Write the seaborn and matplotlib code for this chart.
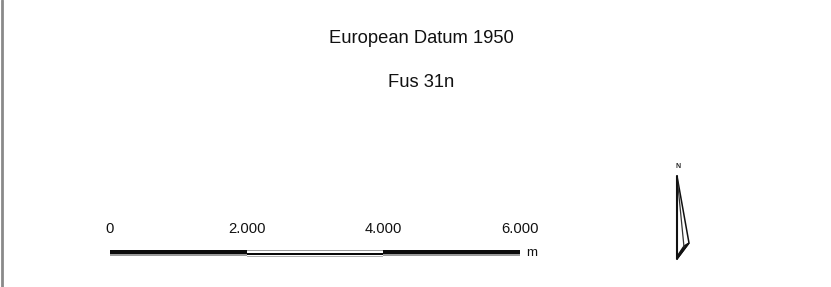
import matplotlib
matplotlib.use("Agg")
import matplotlib.pyplot as plt
import seaborn as sns

# map legend data
titulo = ["European Datum 1950", "Fus 31n"]
escala_m = [0, 2000, 4000, 6000]
escala_rotulos = ["0", "2.000", "4.000", "6.000"]
segmento_cheio = [True, False, True]   # black / hollow / black
unidade = "m"

sns.set_theme(style="white")
plt.rcParams['font.family'] = ['Liberation Sans', 'DejaVu Sans']

fig = plt.figure(figsize=(8.31, 2.87), dpi=100)
fig.patch.set_facecolor('white')

# base axes in pixel units (title, border, north arrow)
ax = fig.add_axes([0, 0, 1, 1])
ax.set_xlim(0, 831)
ax.set_ylim(287, 0)
ax.axis('off')

ax.axvline(1.5, color='#8a8a8a', lw=2)

ax.text(421, 43, titulo[0], ha='center', va='baseline', fontsize=13.2, color='#111111')
ax.text(421, 87, titulo[1], ha='center', va='baseline', fontsize=13.2, color='#111111')

# north arrow
ax.fill([677, 689, 677], [176, 243, 259], facecolor='white', edgecolor='#111111', lw=1.1)
ax.plot([677, 684], [176, 247], color='#333333', lw=0.9)
ax.fill([677, 689, 684, 678], [259, 243, 246, 255], color='#111111')
ax.plot([677, 677], [176, 259], color='#111111', lw=1.5)
ax.text(678, 168, "N", ha='center', va='baseline', fontsize=5, fontweight='bold')

# scale bar in metres
axs = fig.add_axes([110 / 831, (287 - 262) / 287, 410 / 831, (262 - 215) / 287])
axs.set_xlim(escala_m[0], escala_m[-1])
axs.set_ylim(262, 215)
axs.axis('off')

for i, cheio in enumerate(segmento_cheio):
    x0 = escala_m[i]
    w = escala_m[i + 1] - escala_m[i]
    if cheio:
        axs.barh(252, w, left=x0, height=4, color='#0a0a0a', linewidth=0)
        axs.barh(255, w, left=x0, height=2, color='#9a9a9a', linewidth=0)
    else:
        axs.barh(250, w, left=x0, height=1, color='#9a9a9a', linewidth=0)
        axs.barh(252, w, left=x0, height=2.4, color='white', linewidth=0)
        axs.barh(254.2, w, left=x0, height=2.4, color='#0a0a0a', linewidth=0)
        axs.barh(256, w, left=x0, height=1, color='#b0b0b0', linewidth=0)

for x, rot in zip(escala_m, escala_rotulos):
    axs.text(x, 233, rot, ha='center', va='baseline', fontsize=10.6, color='#111111')

axs.annotate(unidade, xy=(escala_m[-1], 256), xytext=(6, 0), textcoords='offset pixels',
             ha='left', va='baseline', fontsize=9.5, color='#111111')

fig.savefig("out.png", dpi=100, facecolor='white')
